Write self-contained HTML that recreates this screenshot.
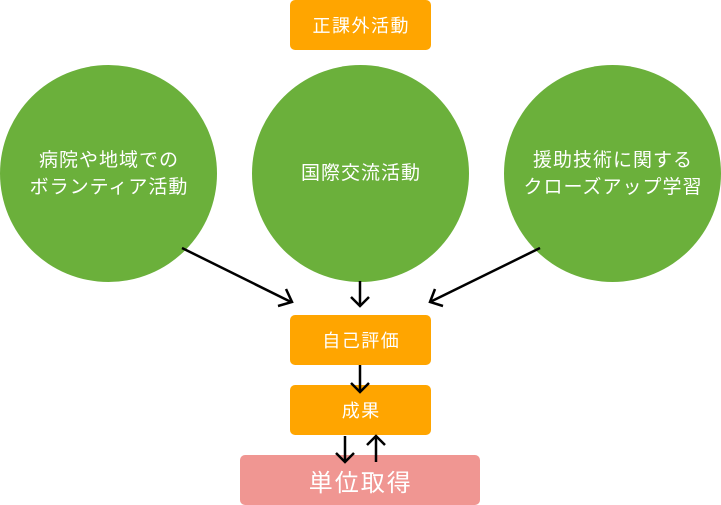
<!DOCTYPE html>
<html><head><meta charset="utf-8"><style>
html,body{margin:0;padding:0;background:#fff;}
body{width:721px;height:505px;position:relative;overflow:hidden;font-family:"Liberation Sans","Noto Sans CJK JP",sans-serif;}
.b{position:absolute;background:#FFA500;border-radius:5px;color:#fff;display:flex;align-items:center;justify-content:center;font-size:18px;letter-spacing:1.5px;text-indent:1.5px;}
.c{position:absolute;width:217px;height:217px;border-radius:50%;background:#6BB03B;color:#fff;display:flex;align-items:center;justify-content:center;text-align:center;font-size:19px;line-height:27px;letter-spacing:1px;top:65px;}
.c span{padding-left:1px;}
</style></head><body>
<div class="b" style="left:290px;top:0;width:141px;height:50px;">正課外活動</div>
<div class="c" style="left:0;"><span>病院や地域での<br>ボランティア活動</span></div>
<div class="c" style="left:252px;"><span>国際交流活動</span></div>
<div class="c" style="left:504px;"><span>援助技術に関する<br>クローズアップ学習</span></div>
<div class="b" style="left:290px;top:315px;width:141px;height:50px;">自己評価</div>
<div class="b" style="left:290px;top:385px;width:141px;height:50px;">成果</div>
<div class="b" style="left:240px;top:455px;width:240px;height:50px;background:#F09692;font-size:24px;letter-spacing:2px;">単位取得</div>
<svg width="721" height="505" style="position:absolute;left:0;top:0" fill="none" stroke="#000" stroke-width="2.5">
<line x1="182" y1="248" x2="291" y2="302"/><polyline points="278,306 292,302 286,289"/>
<line x1="360" y1="281" x2="360" y2="306"/><polyline points="351,297 360,306 369,297"/>
<line x1="540" y1="248" x2="430" y2="302"/><polyline points="443,306 430,302 435,289"/>
<line x1="360" y1="365" x2="360" y2="392"/><polyline points="351,383 360,392 369,383"/>
<line x1="345" y1="436" x2="345" y2="462"/><polyline points="336,453 345,462 354,453"/>
<line x1="376" y1="462" x2="376" y2="436"/><polyline points="367,445 376,436 385,445"/>
</svg>
</body></html>
